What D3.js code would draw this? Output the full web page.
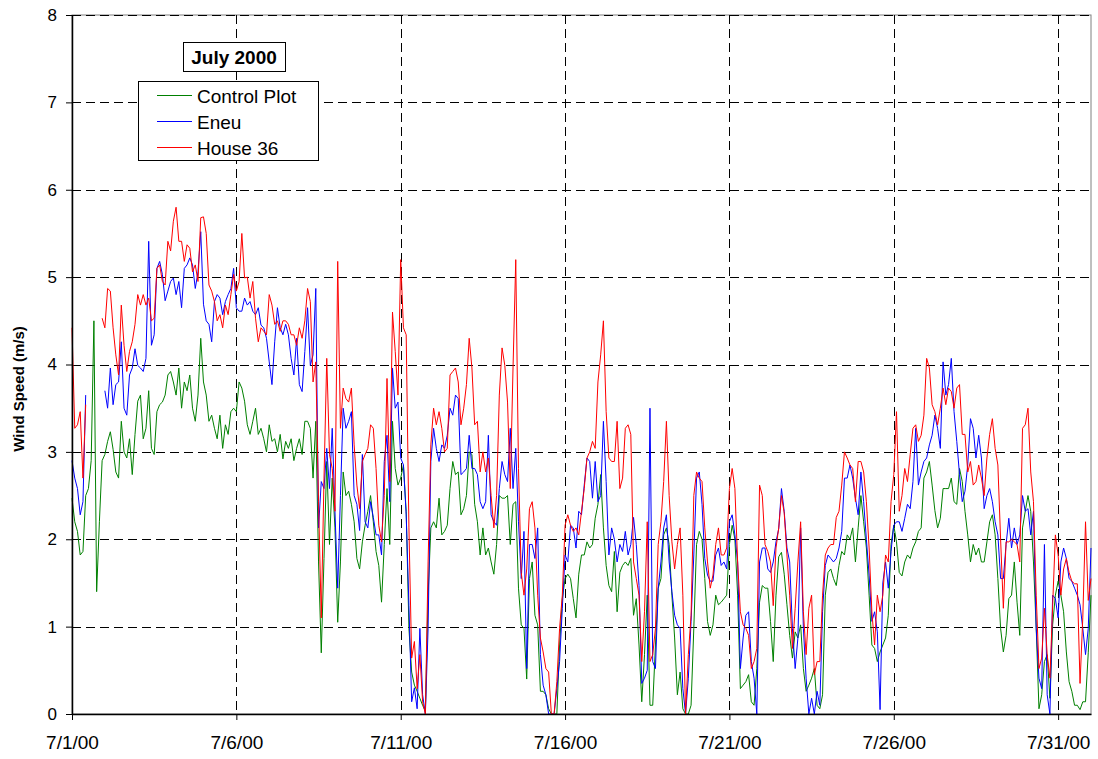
<!DOCTYPE html>
<html>
<head>
<meta charset="utf-8">
<script src="https://cdn.jsdelivr.net/npm/d3@7"></script>
<style>
body { margin: 0; background: #fff; }
text { font-family: "Liberation Sans", Arial, sans-serif; }
</style>
</head>
<body>
<div id="graph"></div>
<script>
// 2-hourly wind speed (m/s), starting 7/1/00 00:00
var controlPlot = [
 2.47,2.2,2.09,1.82,1.86,2.5,2.58,2.9,4.5,1.4,2.2,2.9,
 2.97,3.12,3.23,3.03,2.77,2.7,3.35,3.0,2.93,3.15,2.74,3.2,
 3.58,3.65,3.15,3.27,3.7,3.04,2.97,3.46,3.54,3.57,3.65,3.88,
 3.92,3.8,3.65,3.96,3.5,3.8,3.7,3.88,3.5,3.35,3.65,4.3,
 3.8,3.65,3.35,3.42,3.27,3.15,3.42,3.04,3.31,3.2,3.46,3.5,
 3.46,3.8,3.73,3.58,3.31,3.2,3.35,3.5,3.2,3.27,3.15,3.0,
 3.31,3.12,3.15,3.0,3.2,2.92,3.12,3.04,3.15,2.9,3.04,3.15,
 2.97,3.35,3.35,3.27,2.7,3.35,1.74,0.7,1.78,2.89,1.94,2.7,
 2.13,1.05,1.74,2.77,2.5,2.55,2.4,2.2,1.78,1.66,1.97,2.16,
 2.32,2.5,2.2,1.86,1.7,1.28,1.94,2.58,1.94,3.35,2.81,2.62,
 2.7,2.85,2.32,0.98,0.48,0.33,0.26,0.18,0.1,0.03,1.36,2.13,
 2.2,2.13,2.47,2.05,2.09,2.16,2.58,2.89,2.74,2.77,2.28,2.35,
 2.5,3.0,2.97,2.4,2.2,1.82,2.13,1.82,1.9,1.74,1.6,1.94,
 2.5,2.47,2.47,2.5,1.94,2.4,2.43,1.44,1.02,0.98,0.4,1.55,
 1.74,1.13,1.02,0.26,0.26,0.22,0.06,0,0,0,0.79,1.32,
 1.55,1.6,1.55,1.32,1.1,1.6,1.82,1.82,1.97,1.9,1.94,2.24,
 2.4,2.74,2.13,1.7,1.47,1.4,1.86,1.17,1.62,1.7,1.74,1.7,
 1.78,1.13,1.32,0.79,0.14,0.68,1.36,0.1,0.1,0.79,1.44,1.55,
 2.05,2.13,1.94,1.36,0.87,0.22,0.48,0.06,0,0,0.1,0.98,
 1.94,2.09,2.0,1.55,1.06,0.9,1.02,1.36,1.25,1.28,1.32,1.36,
 1.94,2.16,2.0,1.36,0.29,0.33,0.37,0.45,0.14,0.1,0.52,1.28,
 1.47,1.44,1.44,1.06,0.6,1.36,1.8,1.85,1.6,1.25,0.9,0.64,
 0.94,0.87,1.02,0.52,0.26,0.33,0.41,0.52,0.1,0.06,0.22,1.36,
 1.62,1.66,1.55,1.47,1.7,1.86,1.82,2.05,2.0,2.13,1.74,2.13,
 2.5,2.2,1.9,1.36,0.79,0.75,0.6,0.71,0.79,0.87,1.13,1.94,
 2.16,1.97,1.62,1.58,1.74,1.82,1.78,1.9,1.97,2.09,2.13,2.7,
 2.77,2.89,2.62,2.33,2.13,2.24,2.58,2.58,2.58,2.7,2.43,2.4,
 2.81,2.66,2.32,2.05,1.74,1.94,1.82,1.9,1.74,1.74,1.97,2.2,
 2.28,2.05,1.55,0.98,0.71,0.9,1.32,1.36,1.74,1.28,0.9,2.13,
 2.32,2.5,2.32,1.74,0.98,0.06,0.22,0.6,0.68,0.18,1.02,1.36,
 1.52,1.36,1.17,0.71,0.37,0.26,0.1,0.1,0.05,0.14,0.14,0.7,
 1.36
];

var eneu = [
 2.9,2.7,2.58,2.28,2.43,3.65,null,null,null,null,null,null,
 3.7,3.5,3.96,3.54,3.77,3.8,4.26,3.5,3.42,3.88,3.96,4.18,
 3.99,3.96,3.92,4.07,5.41,4.22,4.34,5.1,5.18,5.03,4.73,4.84,
 4.95,4.99,4.8,4.95,4.65,5.1,5.14,5.22,5.14,4.87,5.06,5.52,
 4.69,4.5,4.46,4.26,4.72,4.8,4.76,4.57,4.72,4.8,4.87,5.1,
 4.65,4.61,4.61,4.76,4.68,4.72,4.61,4.57,4.65,4.45,4.42,4.3,
 4.03,3.77,4.26,4.65,4.42,4.34,4.46,4.34,4.07,3.88,4.3,3.77,
 3.69,4.15,4.65,3.99,4.11,4.87,2.13,2.66,2.58,3.04,2.58,3.27,
 2.32,1.44,2.5,3.5,3.27,3.35,3.46,2.5,2.4,2.1,2.97,2.2,
 2.13,2.43,2.25,2.05,2.05,1.82,2.89,3.19,2.43,3.96,3.5,3.57,
 2.93,2.85,2.28,1.24,0.14,0.3,0.06,0.98,0.22,0,0.98,2.89,
 3.27,3.04,2.89,3.08,3.04,3.19,3.5,3.42,3.65,3.61,2.74,2.77,
 2.81,3.19,2.81,2.81,2.74,2.43,2.35,2.43,3.19,2.28,2.2,2.16,
 2.58,2.89,2.74,2.66,3.27,2.58,3.04,2.2,1.55,2.09,0.52,1.94,
 1.94,1.78,2.13,0.68,0.33,0.22,0,0,0,0.29,0.6,1.21,
 1.82,1.74,2.16,2.13,1.9,2.32,2.28,2.62,2.93,2.89,2.47,2.89,
 2.43,2.5,3.35,2.66,1.82,2.13,2.0,1.74,1.94,1.86,2.09,1.82,
 1.94,2.25,1.94,1.47,0.35,0.41,0.5,3.5,0.6,0.52,1.44,1.74,
 2.13,2.28,1.74,1.4,1.13,1.02,0.98,0.29,0,0.41,1.06,1.82,
 2.7,2.77,2.4,1.78,1.59,1.52,1.52,1.82,1.9,1.7,1.74,1.66,
 2.2,2.28,2.05,1.74,0.52,0.87,1.13,1.17,0.6,0.41,0,1.74,
 1.9,1.9,1.66,1.62,1.74,1.97,2.12,2.58,2.32,1.9,1.74,0.98,
 0.52,0.87,2.13,0.98,0.41,0,0.18,0,0.26,0.1,1.17,1.7,
 1.82,1.78,1.74,1.78,1.9,2.09,2.7,2.7,2.85,2.7,2.47,2.28,
 2.77,2.43,2.0,1.59,1.06,1.17,0.94,0.05,1.5,1.74,1.44,1.86,
 2.16,2.2,2.2,2.09,2.24,2.4,2.35,2.66,3.27,2.62,2.77,2.89,
 2.93,3.08,3.19,3.42,3.27,3.04,4.03,3.65,3.77,4.07,3.46,3.12,
 2.74,2.43,2.55,2.85,3.38,3.27,2.93,3.19,2.93,2.35,2.5,2.58,
 2.43,2.2,2.05,1.55,1.55,1.94,2.24,1.9,2.13,1.94,2.05,2.5,
 2.32,2.35,2.05,2.32,0.98,0.41,0.29,1.94,0.22,0,1.36,1.32,
 1.1,1.74,1.9,1.78,1.55,1.52,1.44,1.36,1.25,0.98,0.68,0.98,
 1.9
];

var house36 = [
 4.42,3.27,3.31,3.46,2.7,3.54,null,null,null,null,null,4.53,
 4.42,4.87,4.84,4.42,4.11,3.88,4.68,4.22,3.92,4.15,4.26,4.46,
 4.8,4.68,4.8,4.68,4.76,4.5,4.53,5.1,5.14,4.95,4.91,5.41,
 5.3,5.64,5.8,5.41,5.41,5.18,5.37,5.33,5.06,5.14,4.95,5.68,
 5.69,5.5,4.91,4.84,4.72,4.5,4.57,4.42,4.68,4.57,4.8,5.03,
 4.84,4.95,5.5,4.99,5.0,4.76,4.95,4.53,4.26,4.42,4.38,4.34,
 4.8,4.68,4.46,4.5,4.38,4.5,4.5,4.46,4.34,4.34,4.22,4.42,
 4.3,4.5,4.87,4.72,3.8,4.03,2.43,1.1,2.7,4.07,2.97,2.81,
 2.32,5.18,3.27,3.73,3.61,3.57,3.73,3.08,2.62,2.35,2.89,2.97,
 3.04,3.31,3.27,2.81,2.16,1.97,2.5,3.84,2.66,4.6,4.15,3.65,
 5.2,4.42,4.34,2.13,0.64,0.83,0.29,0.68,0.14,0,1.74,3.08,
 3.5,3.31,3.46,3.27,3.0,3.04,3.88,3.92,3.96,3.8,3.31,3.5,
 3.77,4.3,3.96,3.31,3.35,2.77,3.0,2.77,2.93,2.5,2.13,2.5,
 3.65,4.19,3.99,3.57,2.58,3.96,5.2,2.81,1.62,1.36,1.66,2.35,
 2.43,2.13,1.36,0.87,0.71,0.52,0.48,0,0,0.37,0.98,1.36,
 2.16,2.28,2.16,2.09,2.13,2.05,2.32,2.58,2.93,3.0,3.12,3.04,
 3.8,4.11,4.5,3.46,2.93,2.89,2.89,3.35,2.58,2.7,3.27,3.31,
 3.2,1.74,1.55,1.36,0.6,1.17,2.2,0.6,0.68,0.98,1.94,2.2,
 2.66,3.35,2.5,1.97,1.66,1.94,2.13,1.36,0,0.68,1.13,2.5,
 2.77,2.7,2.66,2.13,1.74,1.44,1.59,1.94,2.13,1.82,1.82,1.9,
 2.58,2.81,2.58,1.74,1.17,1.02,0.98,0.9,0.52,0.6,0.75,2.62,
 2.5,1.94,1.86,1.74,1.24,1.9,2.13,2.5,2.3,1.82,1.36,0.75,
 1.21,1.74,2.2,1.17,0.68,1.21,1.36,0.45,0.6,0.6,1.36,1.82,
 1.9,1.94,1.94,2.25,2.32,2.62,3.0,2.93,2.85,2.81,2.43,2.89,
 2.89,2.77,2.43,1.9,1.17,0.79,1.36,1.17,1.36,1.82,1.74,2.43,
 2.74,3.46,2.32,2.5,2.81,2.66,2.97,3.27,3.31,3.12,3.19,3.42,
 4.07,3.96,3.54,3.46,3.31,3.5,3.73,3.54,3.73,3.69,3.5,3.73,
 3.77,3.2,3.2,2.77,2.89,2.62,2.66,2.85,2.7,2.5,2.93,3.2,
 3.38,3.04,2.85,2.0,1.21,1.97,1.97,2.0,1.97,1.94,1.74,3.27,
 3.31,3.5,2.77,2.43,1.36,0.52,0.64,1.21,0.68,0.41,1.24,2.05,
 1.82,1.36,1.66,1.78,1.62,1.52,1.49,1.49,0.35,1.1,2.2,1.3,
 1.55
];

var seriesNames = ["Control Plot", "Eneu", "House 36"];
var seriesColors = ["#008000", "#0000ff", "#ff0000"];
var yTicks = [0, 1, 2, 3, 4, 5, 6, 7, 8];
var xTickLabels = ["7/1/00", "7/6/00", "7/11/00", "7/16/00", "7/21/00", "7/26/00", "7/31/00"];

// Set the dimensions of the canvas
var margin = {top: 15, right: 7, bottom: 45, left: 72},
    width = 1098 - margin.left - margin.right,
    height = 759 - margin.top - margin.bottom;

var parseDay = d3.timeParse("%m/%d/%y");
var start = parseDay("7/1/00");
var xTickDates = xTickLabels.map(parseDay);

// Set the ranges
var x = d3.scaleTime().domain([start, d3.timeDay.offset(start, 31)]).range([0, width]);
var y = d3.scaleLinear().domain([0, 8]).range([height, 0]);

var root = d3.select("#graph")
    .append("svg")
        .attr("width", width + margin.left + margin.right)
        .attr("height", height + margin.top + margin.bottom);

var svg = root.append("g")
        .attr("transform", "translate(" + margin.left + "," + margin.top + ")");

// plot frame
svg.append("rect")
    .attr("width", width)
    .attr("height", height)
    .style("fill", "#fff")
    .style("stroke", "#808080")
    .style("stroke-width", 1);

// gridlines
svg.selectAll(".hgrid")
    .data(yTicks.slice(1))
    .enter().append("line")
    .attr("class", "hgrid")
    .attr("x1", 0).attr("x2", width)
    .attr("y1", function(d) { return Math.round(y(d)) + 0.5; })
    .attr("y2", function(d) { return Math.round(y(d)) + 0.5; })
    .style("stroke", "#000")
    .style("stroke-dasharray", "9,5");

svg.selectAll(".vgrid")
    .data(xTickDates.slice(1))
    .enter().append("line")
    .attr("class", "vgrid")
    .attr("y1", 0).attr("y2", height)
    .attr("x1", function(d) { return Math.round(x(d)) + 0.5; })
    .attr("x2", function(d) { return Math.round(x(d)) + 0.5; })
    .style("stroke", "#000")
    .style("stroke-dasharray", "9,5");

// the lines
var allSeries = [controlPlot, eneu, house36];
var valueline = d3.line()
    .defined(function(d) { return d != null; })
    .x(function(d, i) { return x(d3.timeHour.offset(start, i * 2)); })
    .y(function(d) { return y(d); });

allSeries.forEach(function(s, k) {
    svg.append("path")
        .datum(s)
        .attr("d", valueline)
        .style("fill", "none")
        .style("stroke", seriesColors[k])
        .style("stroke-width", 1);
});

// Add the X Axis
var xAxis = svg.append("g")
    .attr("transform", "translate(0," + height + ")")
    .call(d3.axisBottom(x)
        .tickValues(xTickDates)
        .tickFormat(function(d, i) { return xTickLabels[i]; })
        .tickSize(6)
        .tickSizeOuter(0)
        .tickPadding(16));
xAxis.selectAll("text").style("font-size", "19px").style("fill", "#000");

// Add the Y Axis
var yAxis = svg.append("g")
    .call(d3.axisLeft(y)
        .tickValues(yTicks)
        .tickSize(6)
        .tickSizeOuter(0)
        .tickPadding(9));
yAxis.selectAll("text").style("font-size", "17px").style("fill", "#000");

svg.selectAll(".domain").style("stroke", "#000").style("stroke-width", 1.5);
svg.selectAll(".tick line").style("stroke", "#000");

// y label
root.append("text")
    .attr("text-anchor", "middle")
    .attr("transform", "translate(24,389) rotate(-90)")
    .style("font-size", "15px")
    .style("font-weight", "bold")
    .text("Wind Speed (m/s)");

// title box
root.append("rect")
    .attr("x", 183.5).attr("y", 42.5)
    .attr("width", 102).attr("height", 29)
    .style("fill", "#fff").style("stroke", "#000");
root.append("text")
    .attr("x", 234).attr("y", 64)
    .attr("text-anchor", "middle")
    .style("font-size", "19px")
    .style("font-weight", "bold")
    .text("July 2000");

// legend
var legend = root.append("g").attr("transform", "translate(138,81)");
legend.append("rect")
    .attr("x", 0.5).attr("y", 0.5)
    .attr("width", 180).attr("height", 79)
    .style("fill", "#fff").style("stroke", "#000");

seriesNames.forEach(function(name, k) {
    var ly = 14.5 + k * 26;
    legend.append("line")
        .attr("x1", 19).attr("x2", 54)
        .attr("y1", ly).attr("y2", ly)
        .attr("stroke", seriesColors[k])
        .attr("stroke-width", 1);
    legend.append("text")
        .attr("x", 59).attr("y", ly + 7)
        .style("font-size", "19px")
        .text(name);
});
</script>
</body>
</html>
